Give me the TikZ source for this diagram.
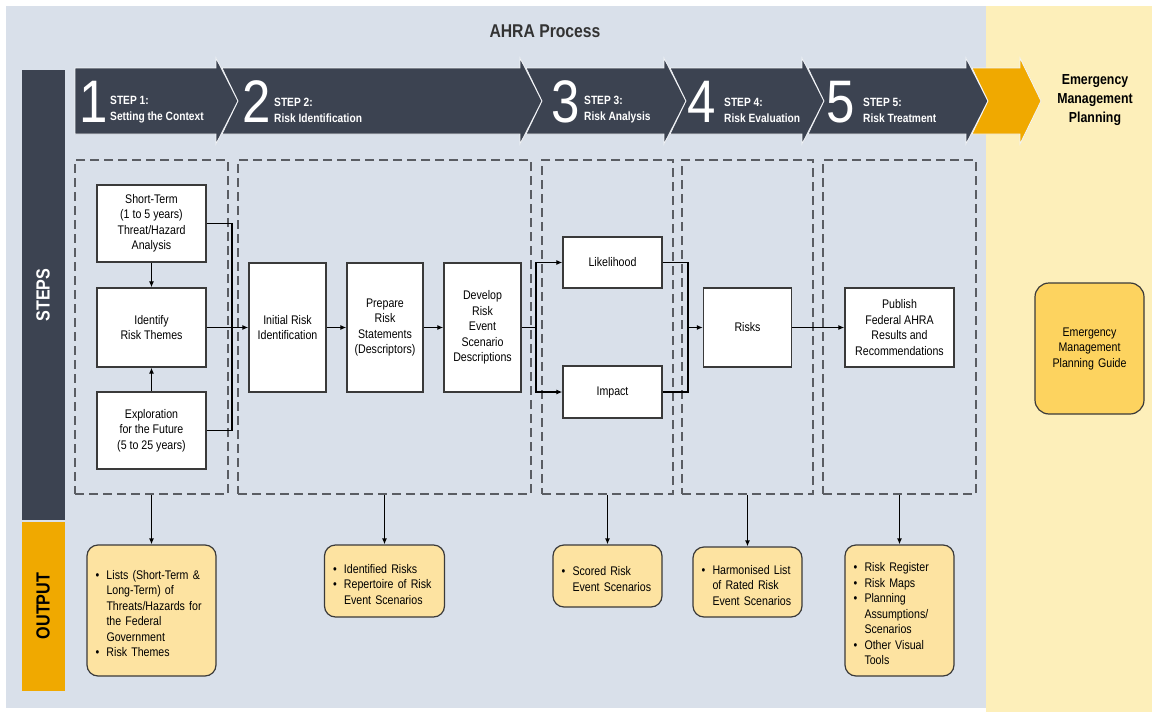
\documentclass[tikz,border=0pt]{standalone}
\usepackage{fontspec}
\setmainfont{Liberation Sans}[FakeStretch=0.85]
\usepackage{tikz}
\usetikzlibrary{arrows.meta}
\definecolor{panelblue}{HTML}{D9E0EA}
\definecolor{panelyellow}{HTML}{FDEFBA}
\definecolor{darkband}{HTML}{3C4351}
\definecolor{ahraorange}{HTML}{F0A900}
\definecolor{outfill}{HTML}{FDE3A1}
\definecolor{guidefill}{HTML}{FDD35F}
\definecolor{boxgray}{HTML}{3A3A3A}
\definecolor{dashgray}{HTML}{5A5D63}
\newcommand{\boxfont}{\fontsize{12.5}{15.5}\selectfont}
\newcommand{\outitem}[1]{\par\noindent\hangindent=11pt\hangafter=1\makebox[11pt][l]{\textbullet}#1\par}
\tikzstyle{stepbox}=[fill=white, draw=boxgray, line width=1.3pt, align=center, font=\boxfont, inner sep=2pt]
\tikzstyle{dashbox}=[draw=dashgray, line width=1.5pt, dash pattern=on 9pt off 5pt]
\tikzstyle{outbox}=[fill=outfill, draw=boxgray, line width=1.2pt, rounded corners=11pt, align=left, font=\boxfont, inner xsep=8.5pt, inner ysep=2pt]
\tikzstyle{chev}=[fill=darkband, draw=white!65!panelblue, line width=0.8pt]
\tikzstyle{flow}=[-{Latex[length=6pt,width=5pt]}, line width=1.2pt]
\tikzstyle{plain}=[-, line width=1.2pt]
\pgfdeclarelayer{bglayer}
\pgfsetlayers{bglayer,main}
\begin{document}
\begin{tikzpicture}[x=1pt, y=-1pt]
	\useasboundingbox (0,0) rectangle (1152,712);
	\begin{pgfonlayer}{bglayer}
		\fill[panelblue] (6,6) rectangle (986,708);
		\fill[panelyellow] (986,6) rectangle (1152,712);
		\fill[darkband] (22,70) rectangle (65,520);
		\fill[ahraorange] (22,522) rectangle (65,691);
	\end{pgfonlayer}
	\node[font=\bfseries\fontsize{18.5}{20}\selectfont, text=black!80] (title) at (545,31) {AHRA Process};
	\node[font=\bfseries\fontsize{19}{20}\selectfont, text=white, rotate=90] (steps) at (43,295) {STEPS};
	\node[font=\bfseries\fontsize{19}{20}\selectfont, rotate=90] (output) at (43,606) {OUTPUT};
	% step chevrons
	\draw[chev] (75,68) -- (216,68) -- (216,58) -- (238,101) -- (216,144) -- (216,134) -- (75,134) -- cycle;
	\foreach \a/\b in {216/520, 520/664, 664/802, 802/966}
		\draw[chev] (\a+6,68) -- (\b,68) -- (\b,58) -- (\b+22,101) -- (\b,144) -- (\b,134) -- (\a+6,134) -- (\a+22,101) -- cycle;
	\draw[chev, fill=ahraorange] (972,68) -- (1020,68) -- (1020,58) -- (1041,101) -- (1020,144) -- (1020,134) -- (972,134) -- (988,101) -- cycle;
	\foreach \i/\nx/\lx/\txt in {1/94/110/Setting the Context, 2/257/274/Risk Identification, 3/566/584/Risk Analysis, 4/702/724/Risk Evaluation, 5/841/863/Risk Treatment} {
		\node[text=white, font=\fontsize{60}{60}\selectfont, inner sep=0] (n\i) at (\nx,102) {\i};
		\node[text=white, font=\bfseries\fontsize{12}{16}\selectfont, align=left, anchor=west, inner sep=0] (l\i) at (\lx,110) {STEP \i:\\\txt};
	}
	\node[font=\bfseries\fontsize{14.5}{19}\selectfont, align=center] (emp) at (1095,100) {Emergency\\Management\\Planning};
	% dashed step frames
	\node[dashbox, minimum width=153, minimum height=334] (d1) at (151.5,327) {};
	\node[dashbox, minimum width=293, minimum height=334] (d2) at (384.5,327) {};
	\node[dashbox, minimum width=131, minimum height=334] (d3) at (607.5,327) {};
	\node[dashbox, minimum width=131, minimum height=334] (d4) at (747.5,327) {};
	\node[dashbox, minimum width=153, minimum height=334] (d5) at (899.5,327) {};
	% process boxes
	\node[stepbox, minimum width=109, minimum height=77] (st) at (151.5,223.5) {Short-Term\\(1 to 5 years)\\Threat/Hazard\\Analysis};
	\node[stepbox, minimum width=109, minimum height=79] (irt) at (151.5,327.5) {Identify\\Risk Themes};
	\node[stepbox, minimum width=109, minimum height=77] (ex) at (151.5,430.5) {Exploration\\for the Future\\(5 to 25 years)};
	\node[stepbox, minimum width=77, minimum height=129] (iri) at (287.5,327.5) {Initial Risk\\Identification};
	\node[stepbox, minimum width=76, minimum height=129] (prs) at (385,327.5) {Prepare\\Risk\\Statements\\(Descriptors)};
	\node[stepbox, minimum width=77, minimum height=129] (dev) at (482.5,327.5) {Develop\\Risk\\Event\\Scenario\\Descriptions};
	\node[stepbox, minimum width=99, minimum height=51] (lik) at (612.5,262.5) {Likelihood};
	\node[stepbox, minimum width=99, minimum height=52] (imp) at (612.5,392) {Impact};
	\node[stepbox, minimum width=88, minimum height=79] (risks) at (747.5,327.5) {Risks};
	\node[stepbox, minimum width=109, minimum height=79] (pub) at (899.5,327.5) {Publish\\Federal AHRA\\Results and\\Recommendations};
	\coordinate (j1) at (232,327.5);
	\coordinate (j2) at (536,327.5);
	\coordinate (j3) at (688,327.5);
	% outputs
	\node[outbox, text width=112, minimum height=131] (o1) at (151.5,610.5) {\outitem{Lists (Short-Term \&\newline Long-Term) of\newline Threats/Hazards for\newline the Federal\newline Government}\outitem{Risk Themes}};
	\node[outbox, text width=103, minimum height=72] (o2) at (384.5,581) {\outitem{Identified Risks}\outitem{Repertoire of Risk\newline Event Scenarios}};
	\node[outbox, text width=92, minimum height=62] (o3) at (607.5,576) {\outitem{Scored Risk\newline Event Scenarios}};
	\node[outbox, text width=92, minimum height=70] (o4) at (747.5,582) {\outitem{Harmonised List\newline of Rated Risk\newline Event Scenarios}};
	\node[outbox, text width=92, minimum height=131] (o5) at (899.5,610.5) {\outitem{Risk Register}\outitem{Risk Maps}\outitem{Planning\newline Assumptions/\newline Scenarios}\outitem{Other Visual\newline Tools}};
	\node[outbox, fill=guidefill, rounded corners=14pt, align=center, text width=92, minimum height=131] (gd) at (1089.5,348.5) {Emergency\\Management\\Planning Guide};
	% connectors
	\draw[flow] (st) -- (irt);
	\draw[flow] (ex) -- (irt);
	\draw[plain] (st.east) -| (j1) |- (ex.east);
	\draw[flow] (irt) -- (iri);
	\draw[flow] (iri) -- (prs);
	\draw[flow] (prs) -- (dev);
	\draw[plain] (dev) -- (j2);
	\draw[flow] (j2) |- (lik);
	\draw[flow] (j2) |- (imp);
	\draw[plain] (lik.east) -| (j3) |- (imp.east);
	\draw[flow] (j3) -- (risks);
	\draw[flow] (risks) -- (pub);
	\foreach \k in {1,...,5}
		\draw[flow] (d\k) -- (o\k);
\end{tikzpicture}
\end{document}
